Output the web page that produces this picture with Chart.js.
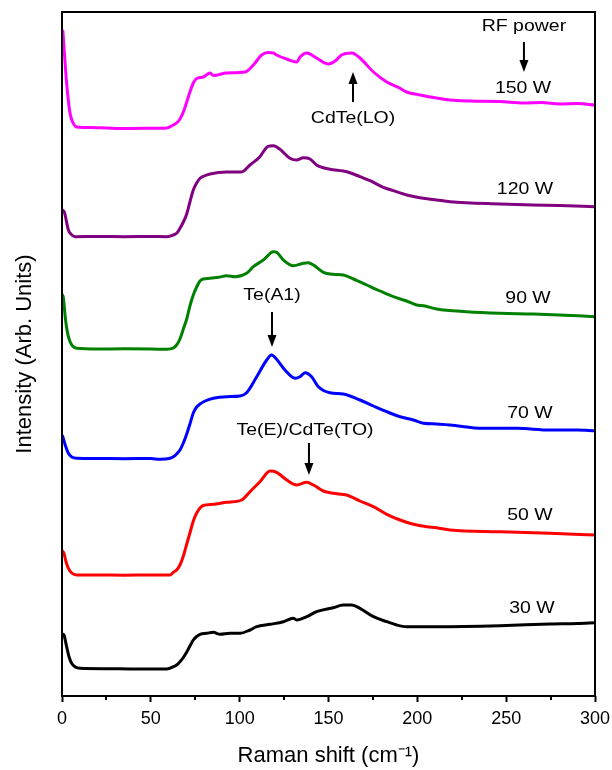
<!DOCTYPE html>
<html>
<head>
<meta charset="utf-8">
<script src="https://cdn.jsdelivr.net/npm/chart.js@4.4.1/dist/chart.umd.min.js"></script>
<style>
   body { margin: 0; background: #ffffff; }
   #wrap { width: 612px; height: 770px; }
</style>
</head>
<body>
<div id="wrap"><canvas id="raman-chart" width="612" height="770"></canvas></div>
<script>
// Raman shift (cm-1) and intensity (arb. units, stacked)
const shift150 = [0.5, 2.6, 4.5, 6, 8.3, 15, 25, 35, 45, 55, 59, 62.7, 64.5, 66.4, 68.3, 70.2, 72, 73.9, 75.8, 79.5, 83.3, 85.2, 92.7, 103, 107.7, 112.4, 116, 119, 120.8, 126.5, 132.1, 134, 137.7, 143.3, 149.9, 153.7, 157.4, 163.1, 167.7, 175.3, 182.8, 190, 194, 201.5, 210.9, 218.4, 230, 246.5, 260, 270, 280, 290, 300];
const int150 = [665, 613, 583, 574, 569, 568.5, 568, 567.5, 567.7, 567.7, 568, 571, 573, 577, 584, 594, 604, 613, 617.5, 619, 623, 620.5, 623, 624, 631, 641, 643.5, 643, 641, 637, 634, 639, 643, 638, 632, 635, 641, 643, 638, 624, 614, 608, 604, 601, 598, 596, 595, 594.5, 593, 593.5, 592, 592.5, 591];

const shift120 = [0.3, 1.3, 3.6, 5, 7.3, 20, 35, 50, 59, 62.7, 64.5, 66.4, 68.3, 70.2, 72, 73.9, 75.8, 77.7, 80, 83.3, 92.7, 101.1, 105.8, 111.4, 115.2, 117, 119, 122.7, 128.3, 132.1, 135.8, 139.6, 143.3, 150.8, 158.3, 162.1, 167.7, 173.4, 180.9, 186.5, 194, 203.4, 210.9, 218.4, 246.5, 265, 280, 300];
const int120 = [486, 484, 466, 462, 459.3, 459.5, 459.3, 459.5, 459.3, 461, 462.7, 467.7, 474, 482, 494, 506, 513, 517.7, 520, 522, 524, 524, 531, 539.3, 548.7, 550, 550.3, 546.7, 537.7, 536, 538.3, 537, 531, 526.7, 525, 523.3, 519.3, 515.3, 508.7, 505.3, 501, 497.7, 496, 494.3, 492, 491, 490.5, 489.3];

const shift90 = [0.3, 0.7, 2, 3.6, 5.5, 8.3, 20, 35, 50, 59, 62.7, 64.5, 66.4, 68.3, 70.2, 72, 73.9, 75.8, 77.7, 79.5, 83.3, 88, 92.7, 97.4, 103.9, 107.7, 113.3, 119, 120.8, 124.6, 130.2, 135.8, 138.6, 141.5, 147.1, 152.7, 158.3, 164, 171.5, 179, 186.5, 194, 199.6, 203.4, 210.9, 227.8, 246.5, 265.3, 280, 300];
const int90 = [401, 399, 376, 359.3, 351, 347.7, 347, 347.2, 347, 346.7, 348, 351, 357, 367, 377, 390, 401, 409, 415, 417, 417.7, 418.7, 420.3, 419.3, 422.7, 429.3, 436, 444.3, 443.7, 436, 430.3, 432.7, 433.3, 431, 423.7, 421.7, 421, 417, 411, 405, 399.3, 395, 391, 390.3, 387, 384.3, 382.7, 382, 381, 379.3];

const shift70 = [0.3, 0.7, 2, 3.6, 5.5, 8.3, 20, 35, 50, 55.2, 60.8, 62.7, 64.5, 66.4, 68.3, 70.2, 72, 73.9, 75.8, 77.7, 80, 85.2, 92.7, 100.2, 103.9, 109.6, 115.2, 118, 120.8, 125.5, 131.1, 134, 136.8, 140.5, 144.3, 150.8, 158.3, 167.7, 175.3, 182.8, 190.3, 197.8, 203.4, 210.9, 218.4, 237.1, 255.9, 274.7, 290, 300];
const int70 = [260, 257.7, 250, 242.7, 239, 237.7, 237.5, 237.3, 237.5, 236.7, 237.7, 239.3, 242, 246, 253, 262, 272, 283, 289, 292, 294.5, 297.7, 299.3, 300, 303.3, 319.3, 336, 341, 336.7, 326, 317.7, 319.3, 323.3, 319.3, 309.3, 303.3, 302, 296, 290, 284.3, 279.3, 276, 272.7, 272, 271, 267.7, 267.7, 266, 266, 265.3];

const shift50 = [0.3, 1.1, 2.3, 3.6, 5.5, 8.3, 20, 35, 50, 60.8, 62.7, 64.5, 66.4, 68.3, 70.2, 72, 73.9, 75.8, 77.7, 79.5, 85.2, 92.7, 101.1, 105.8, 111.4, 117.1, 120.8, 126.5, 132.1, 137.7, 141.5, 147.1, 152.7, 160.2, 167.7, 175.3, 182.8, 190.3, 197.8, 205.3, 210.9, 218.4, 246.5, 274.7, 300];
const int50 = [145, 142.7, 134, 127.7, 123, 121, 121, 120.8, 121, 121, 123.7, 126, 131, 140, 152, 163, 175, 183, 188, 190.5, 191.7, 193.7, 196, 204.3, 214.3, 225, 223.7, 216, 211, 213.7, 211, 205, 202.7, 201, 195, 189.3, 181.7, 176, 171.7, 169.3, 168.3, 166, 164.3, 162.7, 161];

const shift30 = [0.3, 1.1, 2.6, 4, 5.4, 7.5, 10.1, 25, 40, 59, 62.7, 64.5, 66.4, 68.3, 70.2, 72, 73.9, 75.8, 77.7, 81.4, 85.2, 88.9, 94.5, 100.2, 105.8, 109.6, 117.1, 124.6, 130.2, 132.1, 137.7, 143.3, 152.7, 158.3, 163.1, 167.7, 175.3, 182.8, 188.4, 194, 205.3, 210.9, 246.5, 274.7, 290, 300];
const int30 = [62, 61, 49.3, 39, 32.7, 29, 27.7, 27.3, 27, 27, 29.3, 31, 34.3, 38.5, 44, 50, 56, 59.5, 61.7, 62.7, 63.7, 61.7, 62.7, 62.7, 66, 69.3, 71.7, 74.3, 77.7, 76, 79.3, 84.3, 88.3, 91, 91, 87.7, 79.3, 74.3, 71, 69.3, 69.3, 69.3, 70.3, 72, 72.5, 73.3];

const seriesNames = ['150 W', '120 W', '90 W', '70 W', '50 W', '30 W'];
const seriesColors = ['#ff00ff', '#800080', '#008000', '#0000ff', '#ff0000', '#000000'];
const seriesShift = [shift150, shift120, shift90, shift70, shift50, shift30];
const seriesIntensity = [int150, int120, int90, int70, int50, int30];

const xTicks = [0, 50, 100, 150, 200, 250, 300];
const xMinorTicks = [25, 75, 125, 175, 225, 275];

// text labels and arrows, in data coordinates
const notes = [
   { text: 'RF power', x: 260, y: 670 },
   { text: '150 W', x: 259.5, y: 608 },
   { text: 'CdTe(LO)', x: 163.8, y: 578 },
   { text: '120 W', x: 260.6, y: 507 },
   { text: '90 W', x: 262.3, y: 398 },
   { text: 'Te(A1)', x: 118.2, y: 401 },
   { text: '70 W', x: 263.4, y: 283 },
   { text: 'Te(E)/CdTe(TO)', x: 136.8, y: 266 },
   { text: '50 W', x: 263.4, y: 181 },
   { text: '30 W', x: 264.5, y: 88 }
];
const arrows = [
   { x: 260, from: 654, to: 624 },
   { x: 163.8, from: 594, to: 624 },
   { x: 118.2, from: 384, to: 349 },
   { x: 139, from: 253, to: 221 }
];

Chart.defaults.font.family = "'Liberation Sans', Arial, sans-serif";
Chart.defaults.color = '#000';

const extras = {
   id: 'extras',
   afterDraw(chart) {
      const ctx = chart.ctx;
      const area = chart.chartArea;
      const xs = chart.scales.x;
      const ys = chart.scales.y;
      ctx.save();

      // frame
      ctx.strokeStyle = '#000';
      ctx.lineWidth = 2;
      ctx.strokeRect(area.left, area.top, area.right - area.left, area.bottom - area.top);

      // minor ticks
      ctx.beginPath();
      for (const v of xMinorTicks) {
         const px = Math.round(xs.getPixelForValue(v));
         ctx.moveTo(px, area.bottom);
         ctx.lineTo(px, area.bottom + 4);
      }
      ctx.stroke();

      // arrows
      ctx.fillStyle = '#000';
      ctx.lineWidth = 2;
      for (const a of arrows) {
         const px = xs.getPixelForValue(a.x);
         const y0 = ys.getPixelForValue(a.from);
         const y1 = ys.getPixelForValue(a.to);
         const dir = y1 > y0 ? 1 : -1;
         ctx.beginPath();
         ctx.moveTo(px, y0);
         ctx.lineTo(px, y1 - dir * 10);
         ctx.stroke();
         ctx.beginPath();
         ctx.moveTo(px, y1);
         ctx.lineTo(px - 4.5, y1 - dir * 12);
         ctx.lineTo(px + 4.5, y1 - dir * 12);
         ctx.closePath();
         ctx.fill();
      }

      // labels (the original is a bit wide, so stretch horizontally)
      ctx.font = "16.5px 'Liberation Sans', Arial, sans-serif";
      ctx.textAlign = 'center';
      ctx.textBaseline = 'middle';
      for (const n of notes) {
         ctx.save();
         ctx.translate(xs.getPixelForValue(n.x), ys.getPixelForValue(n.y));
         ctx.scale(1.18, 1);
         ctx.fillText(n.text, 0, 0);
         ctx.restore();
      }
      ctx.restore();
   }
};

const datasets = seriesNames.map((name, i) => ({
   label: name,
   data: seriesShift[i].map((s, k) => ({ x: s, y: seriesIntensity[i][k] })),
   borderColor: seriesColors[i],
   borderWidth: 3,
   pointRadius: 0,
   cubicInterpolationMode: 'monotone',
   borderJoinStyle: 'round',
   borderCapStyle: 'round'
}));

new Chart(document.getElementById('raman-chart'), {
   type: 'line',
   data: { datasets: datasets },
   options: {
      responsive: false,
      animation: false,
      layout: { padding: { top: 12, right: 17, left: 0, bottom: 0 } },
      plugins: {
         legend: { display: false },
         tooltip: { enabled: false }
      },
      scales: {
         x: {
            type: 'linear',
            min: 0,
            max: 300,
            afterBuildTicks: (scale) => { scale.ticks = xTicks.map(v => ({ value: v })); },
            afterFit: (scale) => {
               scale.height = 74;
               scale.paddingLeft = 0;
               scale.paddingRight = 0;
            },
            ticks: { font: { size: 18 }, color: '#000', padding: 6 },
            grid: {
               drawOnChartArea: false,
               drawTicks: true,
               tickLength: 6,
               tickWidth: 2,
               tickColor: '#000'
            },
            border: { display: false },
            title: {
               display: true,
               text: 'Raman shift (cm⁻¹)',
               font: { size: 22 },
               color: '#000',
               padding: { top: 0, bottom: 1 }
            }
         },
         y: {
            min: 0,
            max: 684,
            afterFit: (scale) => { scale.width = 62; },
            ticks: { display: false },
            grid: { display: false },
            border: { display: false },
            title: {
               display: true,
               text: 'Intensity (Arb. Units)',
               font: { size: 22 },
               color: '#000',
               padding: { top: 12, bottom: 0 }
            }
         }
      }
   },
   plugins: [extras]
});
</script>
</body>
</html>
